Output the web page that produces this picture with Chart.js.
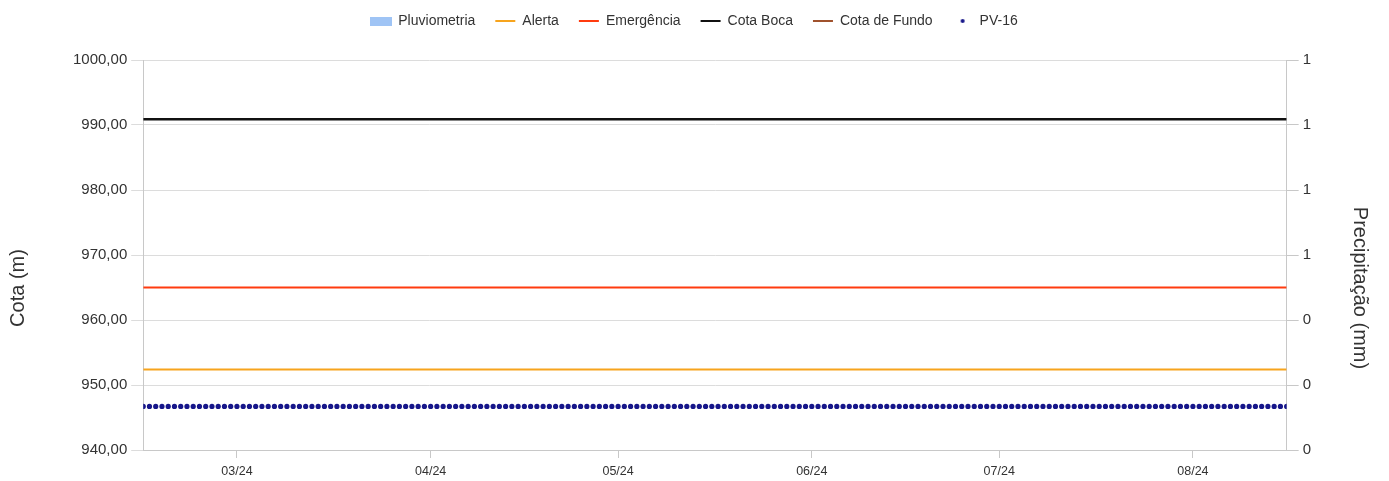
<!DOCTYPE html>
<html>
<head>
<meta charset="utf-8">
<script src="https://cdn.jsdelivr.net/npm/chart.js@4"></script>
<style>
  html, body { margin: 0; padding: 0; background: #fff; }
  #wrap { width: 1389px; height: 481px; }
</style>
</head>
<body>
<div id="wrap"><canvas id="myChart" width="1389" height="481"></canvas></div>
<script>
// x axis = days counted from 15/02/2024 (first reading) to 16/08/2024 (last reading)
var monthTickDays = [15, 46, 76, 107, 137, 168]
var monthTickLabels = ['03/24', '04/24', '05/24', '06/24', '07/24', '08/24']

// fixed levels (m)
var cotaBoca = 990.9
var emergencia = 965.0
var alerta = 952.4
var cotaFundo = 935.0 // below the visible range

// PV-16 daily readings (m), one per day starting 15/02/2024
var pv16Values = [
  946.7, 946.7, 946.7, 946.7, 946.7, 946.7, 946.7, 946.7, 946.7, 946.7,
  946.7, 946.7, 946.7, 946.7, 946.7, 946.7, 946.7, 946.7, 946.7, 946.7,
  946.7, 946.7, 946.7, 946.7, 946.7, 946.7, 946.7, 946.7, 946.7, 946.7,
  946.7, 946.7, 946.7, 946.7, 946.7, 946.7, 946.7, 946.7, 946.7, 946.7,
  946.7, 946.7, 946.7, 946.7, 946.7, 946.7, 946.7, 946.7, 946.7, 946.7,
  946.7, 946.7, 946.7, 946.7, 946.7, 946.7, 946.7, 946.7, 946.7, 946.7,
  946.7, 946.7, 946.7, 946.7, 946.7, 946.7, 946.7, 946.7, 946.7, 946.7,
  946.7, 946.7, 946.7, 946.7, 946.7, 946.7, 946.7, 946.7, 946.7, 946.7,
  946.7, 946.7, 946.7, 946.7, 946.7, 946.7, 946.7, 946.7, 946.7, 946.7,
  946.7, 946.7, 946.7, 946.7, 946.7, 946.7, 946.7, 946.7, 946.7, 946.7,
  946.7, 946.7, 946.7, 946.7, 946.7, 946.7, 946.7, 946.7, 946.7, 946.7,
  946.7, 946.7, 946.7, 946.7, 946.7, 946.7, 946.7, 946.7, 946.7, 946.7,
  946.7, 946.7, 946.7, 946.7, 946.7, 946.7, 946.7, 946.7, 946.7, 946.7,
  946.7, 946.7, 946.7, 946.7, 946.7, 946.7, 946.7, 946.7, 946.7, 946.7,
  946.7, 946.7, 946.7, 946.7, 946.7, 946.7, 946.7, 946.7, 946.7, 946.7,
  946.7, 946.7, 946.7, 946.7, 946.7, 946.7, 946.7, 946.7, 946.7, 946.7,
  946.7, 946.7, 946.7, 946.7, 946.7, 946.7, 946.7, 946.7, 946.7, 946.7,
  946.7, 946.7, 946.7, 946.7, 946.7, 946.7, 946.7, 946.7, 946.7, 946.7,
  946.7, 946.7, 946.7, 946.7
]
var pluviometria = [] // no rain recorded

var lastDay = pv16Values.length - 1

function levelLine(v) { //horizontal line over the whole period
  return [{ x: 0, y: v }, { x: lastDay, y: v }]
}

//legend symbols drawn on small canvases
function legendBox(w, h, color) {
  var c = document.createElement('canvas')
  c.width = w; c.height = h
  var g = c.getContext('2d')
  g.fillStyle = color
  g.fillRect(0, 0, w, h)
  return c
}
function legendDot(r, color) {
  var c = document.createElement('canvas')
  c.width = r * 2 + 2; c.height = r * 2 + 2
  var g = c.getContext('2d')
  g.fillStyle = color
  g.beginPath(); g.arc(r + 1, r + 1, r, 0, Math.PI * 2); g.fill()
  return c
}

var navy = '#16168a'
var datasets = [
  {
    type: 'bar', label: 'Pluviometria', yAxisID: 'y1',
    data: pluviometria, backgroundColor: '#9fc4f5',
    legendStyle: legendBox(22, 9, '#9fc4f5'), order: 10
  },
  {
    type: 'line', label: 'Alerta', data: levelLine(alerta),
    borderColor: '#f7a41d', borderWidth: 2, pointRadius: 0, legendStyle: 'line'
  },
  {
    type: 'line', label: 'Emergência', data: levelLine(emergencia),
    borderColor: '#ff3b0f', borderWidth: 2, pointRadius: 0, legendStyle: 'line'
  },
  {
    type: 'line', label: 'Cota Boca', data: levelLine(cotaBoca),
    borderColor: '#111111', borderWidth: 2.5, pointRadius: 0, legendStyle: 'line'
  },
  {
    type: 'line', label: 'Cota de Fundo', data: levelLine(cotaFundo),
    borderColor: '#a0522d', borderWidth: 2, pointRadius: 0, legendStyle: 'line'
  },
  {
    type: 'line', label: 'PV-16', showLine: false,
    data: pv16Values.map(function (v, i) { return { x: i, y: v } }),
    borderColor: navy, backgroundColor: navy, pointRadius: 2.6, pointBorderWidth: 0,
    legendStyle: legendDot(2, navy)
  }
]

//extra room under the legend
var legendMargin = {
  id: 'legendMargin',
  beforeInit: function (chart) {
    var fit = chart.legend.fit
    chart.legend.fit = function () {
      fit.bind(chart.legend)()
      this.height += 22
    }
  }
}

//axis titles sit a bit lower than the middle of the plot in the original
var titleShift = 33
var axisTitles = {
  id: 'axisTitles',
  afterDraw: function (chart) {
    var c = chart.ctx
    ;['y', 'y1'].forEach(function (id) {
      var s = chart.scales[id]
      var t = s.options.title
      var fs = t.font.size
      var half = fs * 1.2 / 2
      var x = s.position === 'left' ? s.left + t.padding.top + half : s.right - t.padding.top - half
      var y = (chart.chartArea.top + chart.chartArea.bottom) / 2 + titleShift
      c.save()
      c.translate(x, y)
      c.rotate(s.position === 'left' ? -Math.PI / 2 : Math.PI / 2)
      c.font = fs + 'px ' + t.font.family
      c.fillStyle = '#333'
      c.textAlign = 'center'
      c.textBaseline = 'middle'
      c.fillText(t.text, 0, 0)
      c.restore()
    })
  }
}

var ctx = document.getElementById('myChart')
var myChart = new Chart(ctx, {
  data: { datasets: datasets },
  plugins: [legendMargin, axisTitles],
  options: {
    responsive: false,
    animation: false,
    layout: { padding: { left: 0, right: 0, top: -6, bottom: -4 } },
    plugins: {
      tooltip: { enabled: false },
      legend: {
        position: 'top',
        labels: {
          font: { family: 'Liberation Sans, Arial', size: 14 },
          color: '#333',
          usePointStyle: true,
          pointStyleWidth: 20,
          boxHeight: 12,
          padding: 20,
          generateLabels: function (chart) {
            return chart.data.datasets.map(function (ds, i) {
              return {
                text: ds.label,
                datasetIndex: i,
                pointStyle: ds.legendStyle,
                strokeStyle: ds.borderColor || ds.backgroundColor,
                fillStyle: ds.backgroundColor || ds.borderColor,
                lineWidth: 2,
                fontColor: '#333',
                hidden: false
              }
            })
          }
        }
      }
    },
    scales: {
      x: {
        type: 'linear', min: 0, max: lastDay, offset: false,
        afterBuildTicks: function (axis) {
          axis.ticks = monthTickDays.map(function (d) { return { value: d } })
        },
        ticks: {
          font: { family: 'Liberation Sans, Arial', size: 12.5 },
          color: '#333',
          padding: 6,
          maxRotation: 0,
          callback: function (v) {
            var k = monthTickDays.indexOf(v)
            return k >= 0 ? monthTickLabels[k] : ''
          }
        },
        grid: { offset: false, drawOnChartArea: false, drawTicks: true, tickLength: 8, color: '#c8c8c8' },
        border: { color: '#c8c8c8' }
      },
      y: {
        position: 'left', min: 940, max: 1000,
        ticks: {
          stepSize: 10,
          font: { family: 'Liberation Sans, Arial', size: 15 },
          color: '#333',
          padding: 4,
          callback: function (v) { return v.toFixed(2).replace('.', ',') }
        },
        grid: { color: '#dcdcdc', tickLength: 12 },
        border: { color: '#c8c8c8' },
        title: {
          display: true, text: 'Cota (m)',
          font: { family: 'Liberation Sans, Arial', size: 20 },
          color: 'rgba(0,0,0,0)', padding: { top: 6, bottom: 39 }
        }
      },
      y1: {
        position: 'right', min: 0, max: 1,
        afterBuildTicks: function (axis) {
          axis.ticks = [0, 1, 2, 3, 4, 5, 6].map(function (k) { return { value: k / 6 } })
        },
        ticks: {
          font: { family: 'Liberation Sans, Arial', size: 15 },
          color: '#333',
          padding: 4,
          callback: function (v) { return v.toFixed(0) }
        },
        grid: { drawOnChartArea: false, color: '#c8c8c8', tickLength: 12 },
        border: { color: '#c8c8c8' },
        title: {
          display: true, text: 'Precipitação (mm)',
          font: { family: 'Liberation Sans, Arial', size: 20 },
          color: 'rgba(0,0,0,0)', padding: { top: 17, bottom: 33 }
        }
      }
    }
  }
})
</script>
</body>
</html>
